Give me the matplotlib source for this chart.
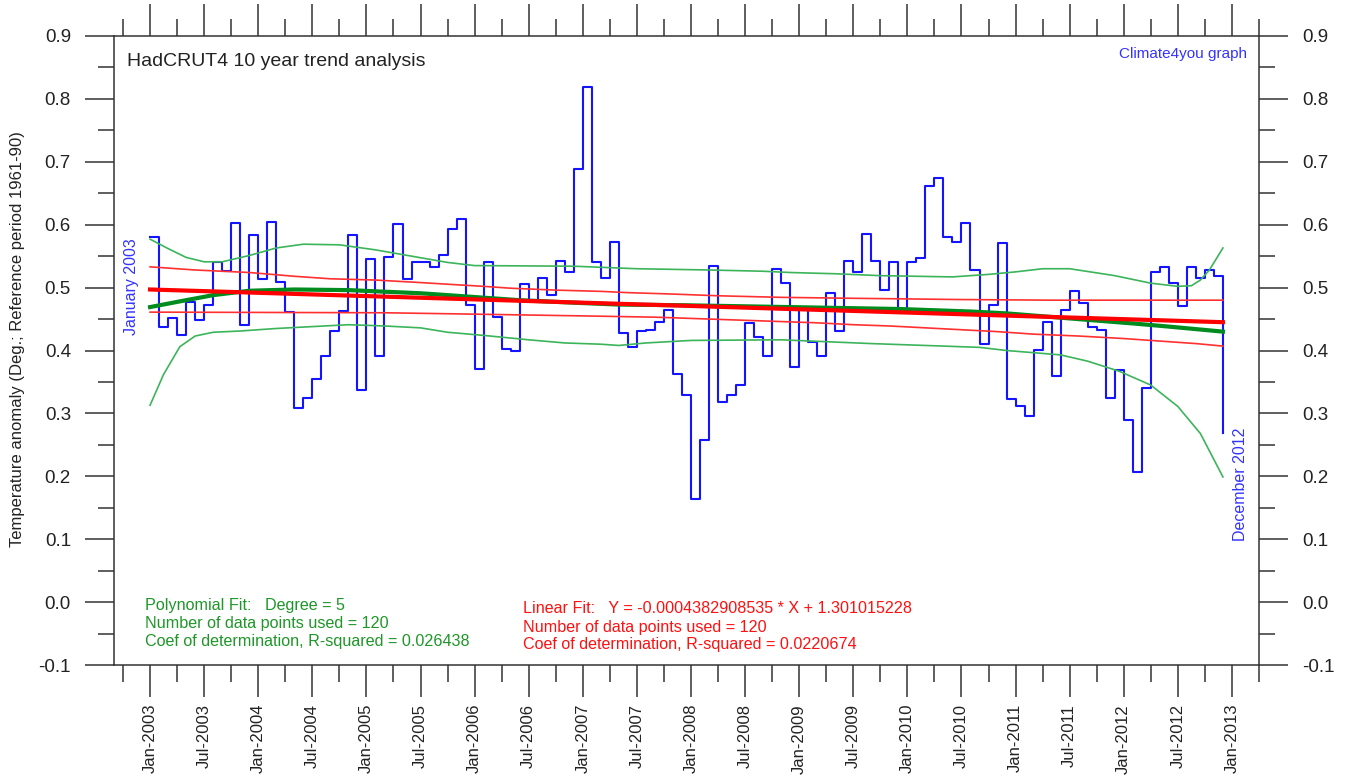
import numpy as np
import matplotlib.pyplot as plt
from matplotlib.ticker import MultipleLocator, FixedLocator, FormatStrFormatter

plt.rcParams['font.family'] = ['Liberation Sans', 'DejaVu Sans']
plt.rcParams['axes.unicode_minus'] = False

# HadCRUT4 monthly anomaly, Jan 2003 .. Dec 2012
anomaly = [
    0.581, 0.437, 0.451, 0.424, 0.477, 0.448, 0.472, 0.540, 0.526, 0.602, 0.441, 0.584,  # 2003
    0.513, 0.605, 0.509, 0.461, 0.309, 0.325, 0.354, 0.391, 0.431, 0.463, 0.584, 0.337,  # 2004
    0.545, 0.391, 0.549, 0.601, 0.514, 0.540, 0.541, 0.532, 0.552, 0.593, 0.609, 0.472,  # 2005
    0.371, 0.540, 0.454, 0.403, 0.399, 0.506, 0.480, 0.516, 0.489, 0.542, 0.525, 0.689,  # 2006
    0.819, 0.540, 0.516, 0.573, 0.428, 0.405, 0.431, 0.432, 0.446, 0.464, 0.362, 0.330,  # 2007
    0.164, 0.257, 0.534, 0.318, 0.330, 0.345, 0.443, 0.422, 0.391, 0.530, 0.508, 0.374,  # 2008
    0.467, 0.414, 0.391, 0.492, 0.431, 0.542, 0.525, 0.585, 0.542, 0.496, 0.540, 0.459,  # 2009
    0.540, 0.547, 0.662, 0.675, 0.581, 0.573, 0.602, 0.528, 0.411, 0.472, 0.571, 0.323,  # 2010
    0.311, 0.296, 0.401, 0.446, 0.359, 0.465, 0.494, 0.475, 0.438, 0.432, 0.325, 0.369,  # 2011
    0.289, 0.207, 0.340, 0.525, 0.532, 0.507, 0.470, 0.532, 0.515, 0.528, 0.518, 0.269,  # 2012
]
months = np.arange(len(anomaly))

# 5th degree polynomial fit (month index, value)
poly_m = [0, 4, 7, 11, 16, 22, 30, 36, 41, 47, 52, 59, 71, 83, 91, 95, 102, 109, 113, 119]
poly_v = [0.469, 0.480, 0.488, 0.495, 0.497, 0.496, 0.491, 0.485, 0.480, 0.476, 0.473,
          0.472, 0.469, 0.466, 0.462, 0.459, 0.451, 0.443, 0.438, 0.430]

# polynomial upper / lower envelopes
poly_up_m = [0, 2, 4, 6, 8, 11, 14, 17, 21, 25, 29, 33, 36, 47, 54, 62, 68, 71, 76, 81,
             89, 93, 96, 99, 102, 107, 111, 114, 115.5, 116.5, 117.5, 119]
poly_up_v = [0.577, 0.562, 0.548, 0.541, 0.541, 0.551, 0.563, 0.569, 0.568, 0.560, 0.550,
             0.540, 0.535, 0.534, 0.530, 0.528, 0.526, 0.524, 0.522, 0.519, 0.517, 0.521,
             0.525, 0.530, 0.530, 0.519, 0.507, 0.502, 0.503, 0.512, 0.528, 0.563]
poly_lo_m = [0, 1.5, 3.3, 5, 7, 10, 14, 18, 22, 26, 30, 33, 37, 42, 46, 50, 52, 55, 60,
             70, 75, 80, 86, 92, 95, 101, 104, 107.5, 111, 114, 116.5, 119]
poly_lo_v = [0.313, 0.362, 0.406, 0.423, 0.429, 0.431, 0.435, 0.438, 0.441, 0.439, 0.436,
             0.429, 0.424, 0.417, 0.412, 0.410, 0.408, 0.412, 0.416, 0.417, 0.414, 0.411,
             0.408, 0.405, 0.400, 0.393, 0.383, 0.367, 0.345, 0.311, 0.268, 0.199]

# linear fit and its band
lin_m = [0, 119]
lin_v = [0.497, 0.445]
lin_up_m = [0, 5, 11, 16, 20, 25, 30, 34, 37, 40, 45, 50, 53, 58, 63, 70, 78, 90, 100, 119]
lin_up_v = [0.533, 0.528, 0.524, 0.518, 0.514, 0.512, 0.508, 0.5045, 0.502, 0.499, 0.496,
            0.494, 0.492, 0.4897, 0.487, 0.4845, 0.483, 0.481, 0.480, 0.480]
lin_lo_m = [0, 26, 35, 48, 56, 62, 68, 74, 78, 82, 86, 90, 94, 98, 103, 108, 112, 116, 119]
lin_lo_v = [0.461, 0.460, 0.458, 0.455, 0.453, 0.450, 0.447, 0.444, 0.441, 0.439, 0.436,
            0.433, 0.430, 0.426, 0.423, 0.419, 0.415, 0.411, 0.407]

tick_months = list(range(0, 121, 6))
tick_labels = ['Jan-2003', 'Jul-2003', 'Jan-2004', 'Jul-2004', 'Jan-2005', 'Jul-2005',
               'Jan-2006', 'Jul-2006', 'Jan-2007', 'Jul-2007', 'Jan-2008', 'Jul-2008',
               'Jan-2009', 'Jul-2009', 'Jan-2010', 'Jul-2010', 'Jan-2011', 'Jul-2011',
               'Jan-2012', 'Jul-2012', 'Jan-2013']

fig = plt.figure(figsize=(13.54, 7.82), dpi=100)
ax = fig.add_axes([114 / 1354, 1 - 665 / 782, 1145 / 1354, 629 / 782])

ax.step(months, anomaly, where='post', color='#1414ff', lw=1.5, zorder=2)
ax.plot(poly_up_m, poly_up_v, color='#3cb45a', lw=1.2, zorder=3)
ax.plot(poly_lo_m, poly_lo_v, color='#3cb45a', lw=1.2, zorder=3)
ax.plot(lin_up_m, lin_up_v, color='#ff3030', lw=1.2, zorder=3)
ax.plot(lin_lo_m, lin_lo_v, color='#ff3030', lw=1.2, zorder=3)
ax.plot(poly_m, poly_v, color='#008c1e', lw=3, zorder=4)
ax.plot(lin_m, lin_v, color='#ff0000', lw=3, zorder=5)

ax.set_xlim(-4, 123)
ax.set_ylim(-0.1, 0.9)
ax.set_xticks(tick_months)
ax.set_xticklabels(tick_labels, rotation=90)
ax.xaxis.set_minor_locator(FixedLocator(range(-3, 124, 6)))
ax.yaxis.set_major_locator(MultipleLocator(0.1))
ax.yaxis.set_minor_locator(MultipleLocator(0.05))
ax.yaxis.set_major_formatter(FormatStrFormatter('%.1f'))

ax.tick_params(which='both', direction='out', top=True, right=True, labelright=True,
               width=1.1, color='#333333', labelcolor='#222222')
ax.tick_params(axis='x', which='major', length=23, pad=5, labelsize=12)
ax.tick_params(axis='x', which='minor', length=12)
ax.tick_params(axis='y', which='major', length=21, pad=10, labelsize=13.5)
ax.tick_params(axis='y', which='minor', length=11.5)
for s in ax.spines.values():
    s.set_linewidth(1.1)
    s.set_color('#333333')

ax.text(0.0114, 0.960, 'HadCRUT4 10 year trend analysis', transform=ax.transAxes,
        fontsize=14, color='#222222', va='center', ha='left')
ax.text(0.9895, 0.971, 'Climate4you graph', transform=ax.transAxes,
        fontsize=11, color='#3333ff', va='center', ha='right')

green_lines = ['Polynomial Fit:   Degree = 5',
               'Number of data points used = 120',
               'Coef of determination, R-squared = 0.026438']
for txt, yy in zip(green_lines, [0.0938, 0.0652, 0.0366]):
    ax.text(0.0271, yy, txt, transform=ax.transAxes, fontsize=11.6,
            color='#1e9628', va='center', ha='left')

red_lines = ['Linear Fit:   Y = -0.0004382908535 * X + 1.301015228',
             'Number of data points used = 120',
             'Coef of determination, R-squared = 0.0220674']
for txt, yy in zip(red_lines, [0.0906, 0.0604, 0.0318]):
    ax.text(0.357, yy, txt, transform=ax.transAxes, fontsize=11.6,
            color='#ff1010', va='center', ha='left')

ax.text(-2.1, 0.502, 'January 2003', rotation=90, fontsize=11.5, color='#3333ff',
        va='center', ha='center')
ax.text(120.9, 0.187, 'December 2012', rotation=90, fontsize=11.5, color='#3333ff',
        va='center', ha='center')

fig.text(18 / 1354, 1 - 339 / 782, 'Temperature anomaly (Deg.; Reference period 1961-90)',
         rotation=90, fontsize=12, color='#222222', va='center', ha='center')

fig.savefig('out.png', dpi=100)
